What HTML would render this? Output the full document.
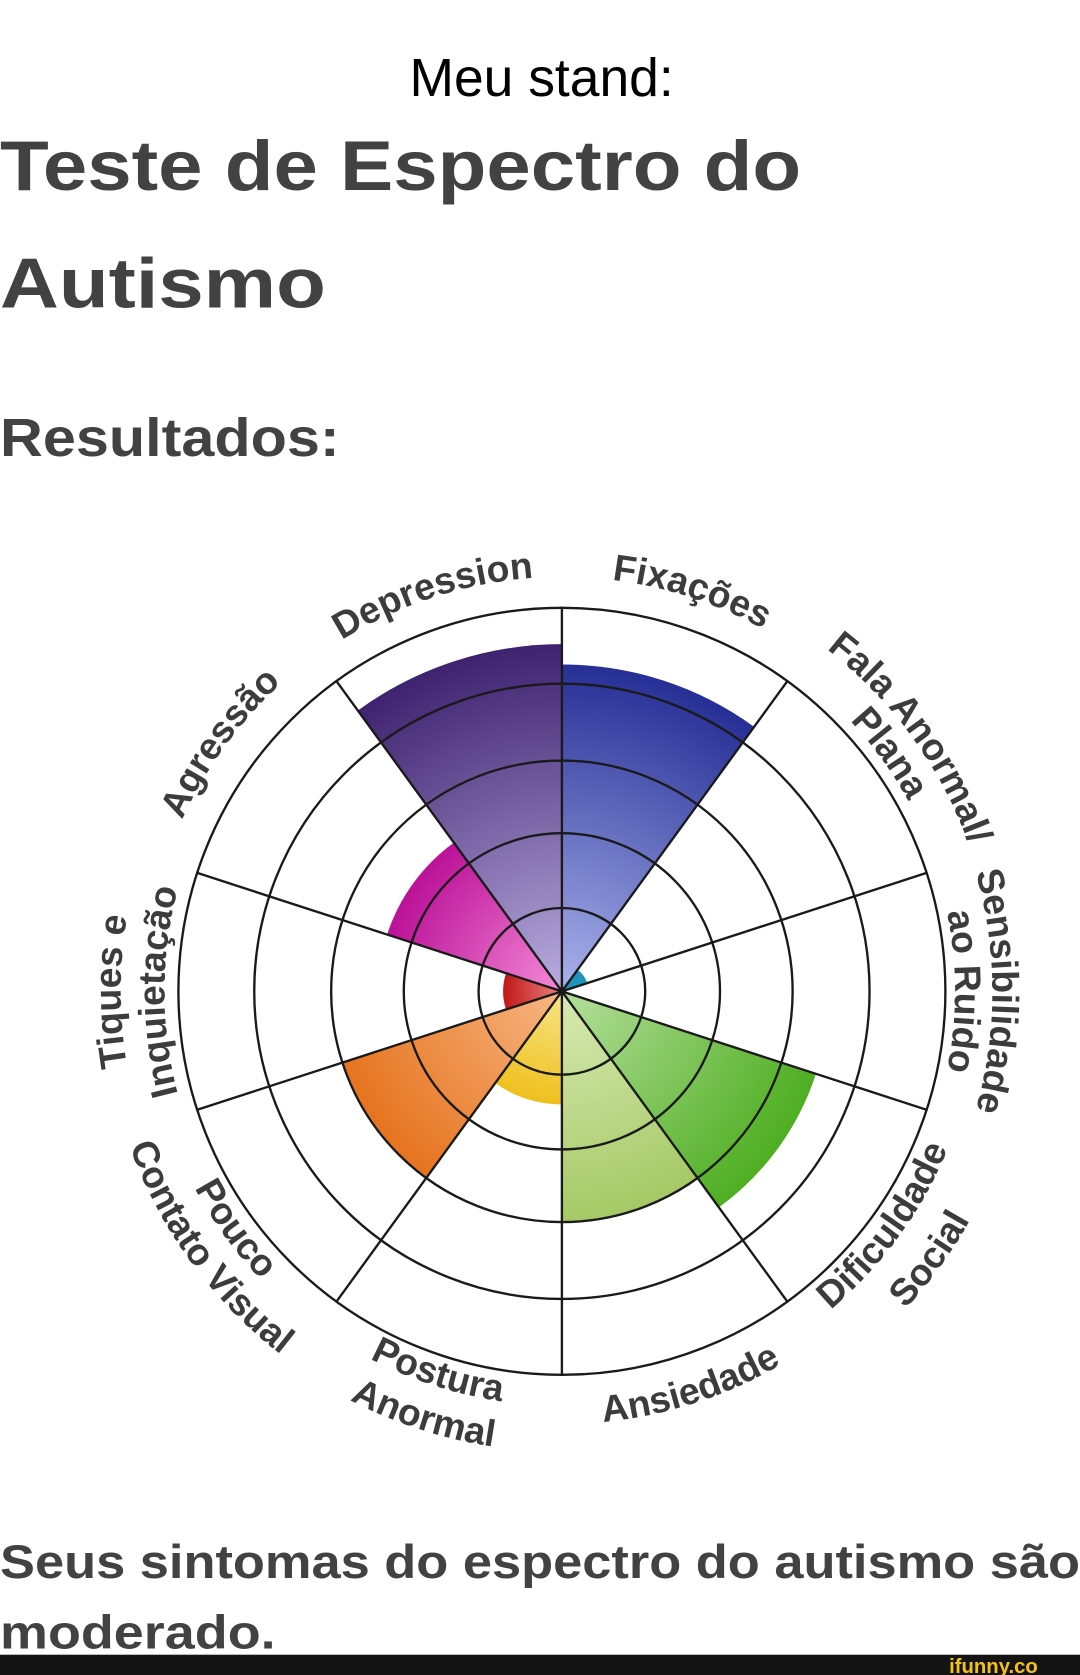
<!DOCTYPE html>
<html><head><meta charset="utf-8"><style>
html,body{margin:0;padding:0;background:#fff;}
svg{display:block;}
</style></head><body>
<svg width="1080" height="1675" viewBox="0 0 1011 1568" xmlns="http://www.w3.org/2000/svg">
<defs>
<radialGradient id="gDep" gradientUnits="userSpaceOnUse" cx="526" cy="928" r="325"><stop offset="0" stop-color="#b9addf"/><stop offset="1" stop-color="#3f2270"/></radialGradient>
<radialGradient id="gFix" gradientUnits="userSpaceOnUse" cx="526" cy="928" r="306"><stop offset="0" stop-color="#aab3ec"/><stop offset="1" stop-color="#262f95"/></radialGradient>
<radialGradient id="gDif" gradientUnits="userSpaceOnUse" cx="526" cy="928" r="250"><stop offset="0" stop-color="#b5df9c"/><stop offset="1" stop-color="#4fae22"/></radialGradient>
<radialGradient id="gAns" gradientUnits="userSpaceOnUse" cx="526" cy="928" r="215"><stop offset="0" stop-color="#d8eab4"/><stop offset="1" stop-color="#a6c966"/></radialGradient>
<radialGradient id="gPos" gradientUnits="userSpaceOnUse" cx="526" cy="928" r="106"><stop offset="0" stop-color="#f8e488"/><stop offset="1" stop-color="#efc01e"/></radialGradient>
<radialGradient id="gPou" gradientUnits="userSpaceOnUse" cx="526" cy="928" r="215"><stop offset="0" stop-color="#f7b684"/><stop offset="1" stop-color="#e6741f"/></radialGradient>
<radialGradient id="gTiq" gradientUnits="userSpaceOnUse" cx="526" cy="928" r="55"><stop offset="0" stop-color="#ec8080"/><stop offset="1" stop-color="#c01818"/></radialGradient>
<radialGradient id="gAgr" gradientUnits="userSpaceOnUse" cx="526" cy="928" r="172"><stop offset="0" stop-color="#f48ad6"/><stop offset="1" stop-color="#bb1198"/></radialGradient>

<path id="tDep" d="M146.5 847.3 A388 388 0 0 1 785.6 639.7"/>
<path id="tFix" d="M266.4 639.7 A388 388 0 0 1 905.5 847.3"/>
<path id="tFala1" d="M483.7 525.2 A405 405 0 0 1 896 1092.7"/>
<path id="tFala2" d="M487.3 560 A370 370 0 0 1 864 1078.5"/>
<path id="tSen1" d="M727.5 579 A403 403 0 0 1 727.5 1277"/>
<path id="tSen2" d="M710 609.3 A368 368 0 0 1 710 1246.7"/>
<path id="tAgr" d="M169.7 1086.6 A390 390 0 0 1 566.8 540.1"/>
<path id="tTiq1" d="M319.5 1285.7 A413 413 0 0 1 319.5 570.3"/>
<path id="tTiq2" d="M340 1250.2 A372 372 0 0 1 340 605.8"/>
<path id="bAns" d="M255 1229 A405 405 0 0 0 922.1 1012.2"/>
<path id="bPos1" d="M146.5 1008.7 A388 388 0 0 0 785.6 1216.3"/>
<path id="bPos2" d="M104.4 1017.6 A431 431 0 0 0 814.4 1248.3"/>
<path id="bPou1" d="M169.7 769.4 A390 390 0 0 0 566.8 1315.9"/>
<path id="bPou2" d="M133.2 753.1 A430 430 0 0 0 570.9 1355.6"/>
<path id="bDif1" d="M485.2 1315.9 A390 390 0 0 0 882.3 769.4"/>
<path id="bDif2" d="M480.2 1363.6 A438 438 0 0 0 926.1 749.9"/>
</defs>

<text x="507" y="90" font-family="Liberation Sans, sans-serif" font-size="50" text-anchor="middle" fill="#000">Meu stand:</text>
<text x="0" y="178" font-family="Liberation Sans, sans-serif" font-weight="bold" font-size="66" fill="#424242" textLength="750" lengthAdjust="spacingAndGlyphs">Teste de Espectro do</text>
<text x="0" y="288" font-family="Liberation Sans, sans-serif" font-weight="bold" font-size="66" fill="#424242" textLength="305" lengthAdjust="spacingAndGlyphs">Autismo</text>
<text x="0" y="427" font-family="Liberation Sans, sans-serif" font-weight="bold" font-size="50" fill="#424242" textLength="318" lengthAdjust="spacingAndGlyphs">Resultados:</text>

<path d="M526 928 L335 665.1 A325 325 0 0 1 526 603 Z" fill="url(#gDep)"/>
<path d="M526 928 L526 622 A306 306 0 0 1 705.9 680.4 Z" fill="url(#gFix)"/>
<path d="M526 928 L540.7 907.8 A25 25 0 0 1 549.8 920.3 Z" fill="#1f93bb"/>
<path d="M526 928 L763.8 1005.3 A250 250 0 0 1 673 1130.3 Z" fill="url(#gDif)"/>
<path d="M526 928 L652.4 1101.9 A215 215 0 0 1 526 1143 Z" fill="url(#gAns)"/>
<path d="M526 928 L526 1034 A106 106 0 0 1 463.7 1013.8 Z" fill="url(#gPos)"/>
<path d="M526 928 L399.6 1101.9 A215 215 0 0 1 321.5 994.4 Z" fill="url(#gPou)"/>
<path d="M526 928 L473.7 945 A55 55 0 0 1 473.7 911 Z" fill="url(#gTiq)"/>
<path d="M526 928 L362.4 874.8 A172 172 0 0 1 424.9 788.8 Z" fill="url(#gAgr)"/>

<g fill="none" stroke="#1a1a1a" stroke-width="2.2">
<circle cx="526" cy="928" r="78"/>
<circle cx="526" cy="928" r="148"/>
<circle cx="526" cy="928" r="216"/>
<circle cx="526" cy="928" r="288"/>
<circle cx="526" cy="928" r="359"/>
<path d="M526 928 L526 568 M526 928 L737.6 636.8 M526 928 L868.4 816.8 M526 928 L868.4 1039.2 M526 928 L737.6 1219.2 M526 928 L526 1288 M526 928 L314.4 1219.2 M526 928 L183.6 1039.2 M526 928 L183.6 816.8 M526 928 L314.4 636.8"/>
</g>
<circle cx="526" cy="928" r="4" fill="#1a1a1a"/>

<g font-family="Liberation Sans, sans-serif" font-weight="bold" font-size="35" fill="#3c3c3c" text-anchor="middle">
<text><textPath href="#tDep" startOffset="50%">Depression</textPath></text>
<text><textPath href="#tFix" startOffset="50%">Fixações</textPath></text>
<text><textPath href="#tFala1" startOffset="50%">Fala Anormal/</textPath></text>
<text><textPath href="#tFala2" startOffset="50%">Plana</textPath></text>
<text><textPath href="#tSen1" startOffset="50%">Sensibilidade</textPath></text>
<text><textPath href="#tSen2" startOffset="50%">ao Ruido</textPath></text>
<text><textPath href="#tAgr" startOffset="50%">Agressão</textPath></text>
<text><textPath href="#tTiq1" startOffset="50%">Tiques e</textPath></text>
<text><textPath href="#tTiq2" startOffset="50%">Inquietação</textPath></text>
<text><textPath href="#bAns" startOffset="50%">Ansiedade</textPath></text>
<text><textPath href="#bPos1" startOffset="50%">Postura</textPath></text>
<text><textPath href="#bPos2" startOffset="50%">Anormal</textPath></text>
<text><textPath href="#bPou1" startOffset="50%">Pouco</textPath></text>
<text><textPath href="#bPou2" startOffset="50%">Contato Visual</textPath></text>
<text><textPath href="#bDif1" startOffset="50%">Dificuldade</textPath></text>
<text><textPath href="#bDif2" startOffset="50%">Social</textPath></text>
</g>

<text x="0" y="1477" font-family="Liberation Sans, sans-serif" font-weight="bold" font-size="44" fill="#424242" textLength="1011" lengthAdjust="spacingAndGlyphs">Seus sintomas do espectro do autismo são</text>
<text x="0" y="1543" font-family="Liberation Sans, sans-serif" font-weight="bold" font-size="44" fill="#424242" textLength="258" lengthAdjust="spacingAndGlyphs">moderado.</text>
<rect x="0" y="1549" width="1011" height="19" fill="#141414"/>
<text x="930" y="1566" font-family="Liberation Sans, sans-serif" font-weight="bold" font-size="19" fill="#f5c316" text-anchor="middle">ifunny.co</text>
</svg>
</body></html>
